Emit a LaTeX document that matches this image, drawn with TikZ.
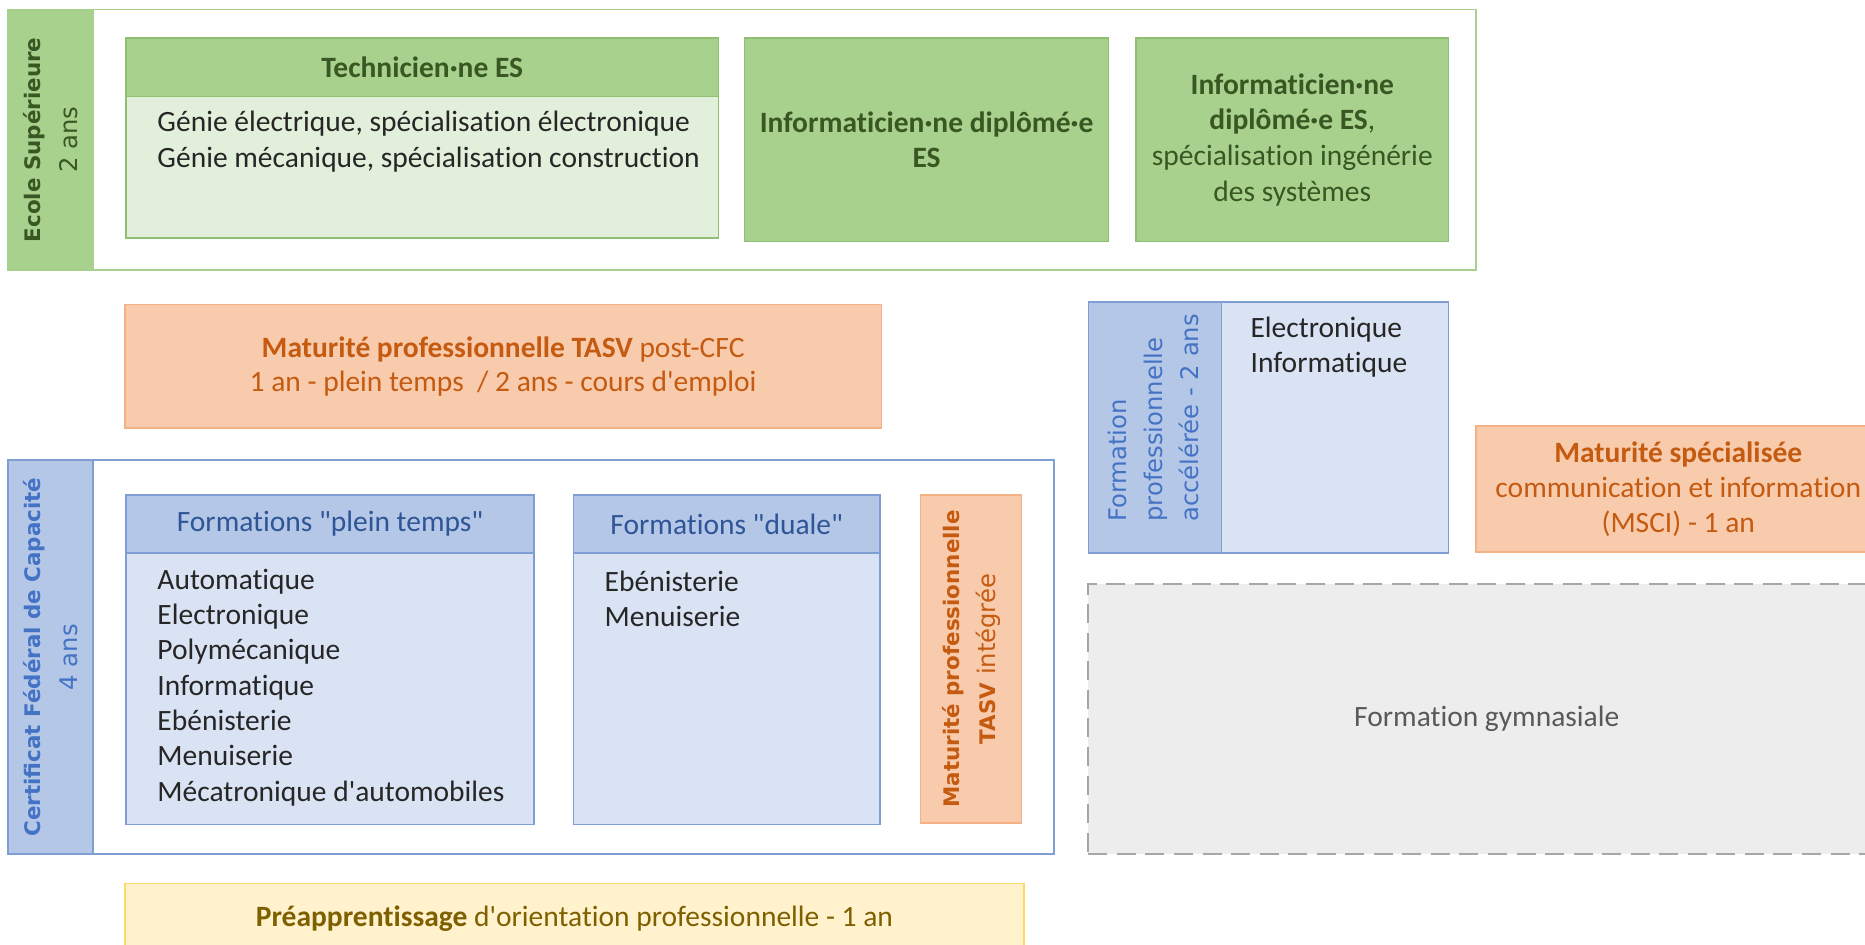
\documentclass[tikz,border=0pt]{standalone}
\usepackage{fontspec}
\setmainfont{Carlito}
\newfontfamily\cf{Carlito}[Ligatures={TeXOff,NoCommon}]
\newfontfamily\vf{DejaVu Sans}
\definecolor{esfill}{HTML}{A9D18E}
\definecolor{eslight}{HTML}{E2EFDA}
\definecolor{esborder}{HTML}{8FBF72}
\definecolor{esdark}{HTML}{385723}
\definecolor{bfill}{HTML}{B4C7E7}
\definecolor{blight}{HTML}{DAE3F3}
\definecolor{bborder}{HTML}{7F9FD4}
\definecolor{bstrip}{HTML}{4472C4}
\definecolor{bhead}{HTML}{2F5597}
\definecolor{ofill}{HTML}{F8CBAD}
\definecolor{oborder}{HTML}{F4B183}
\definecolor{otext}{HTML}{C55A11}
\definecolor{yfill}{HTML}{FFF2CC}
\definecolor{yborder}{HTML}{FFD966}
\definecolor{ytext}{HTML}{7F6000}
\definecolor{gfill}{HTML}{EDEDED}
\definecolor{gborder}{HTML}{A6A6A6}
\definecolor{gtext}{HTML}{595959}
\definecolor{body}{HTML}{262626}
\newcommand{\bx}[6]{\node[#6, anchor=north west, inner sep=0pt, outer sep=0pt, minimum width={(#4-#2)*0.5pt}, minimum height={(#5-#3)*0.5pt}] (#1) at (#2,#3) {};}
\newcommand{\vb}[1]{{\fontsize{9}{15.2}\selectfont\bfseries #1}}
\tikzset{
  esframe/.style={draw=esfill, line width=0.8pt, fill=white},
  esbox/.style={draw=esborder, line width=0.6pt, fill=esfill},
  eslightbox/.style={draw=esborder, line width=0.6pt, fill=eslight},
  bframe/.style={draw=bborder, line width=0.7pt, fill=white},
  bbox/.style={draw=bborder, line width=0.6pt, fill=bfill},
  blightbox/.style={draw=bborder, line width=0.6pt, fill=blight},
  obox/.style={draw=oborder, line width=0.6pt, fill=ofill},
  ybox/.style={draw=yborder, line width=0.6pt, fill=yfill},
  gbox/.style={draw=gborder, line width=0.9pt, dash pattern=on 8pt off 4pt, fill=gfill},
  htext/.style={font=\cf\fontsize{12.4}{15}\selectfont, align=center, inner sep=0pt},
  ltext/.style={font=\cf\fontsize{12.4}{14.85}\selectfont, align=left, inner sep=0pt, text=body},
  vtext/.style={font=\vf\fontsize{10.2}{15.2}\selectfont, align=center, inner sep=0pt, rotate=90}
}
\begin{document}
\begin{tikzpicture}[x=0.5pt, y=-0.5pt]
\useasboundingbox (0,0) rectangle (1568,794);
\clip (0,0) rectangle (1568,794);
\fill[white] (0,0) rectangle (1568,794);
% Ecole superieure
\bx{esframe}{7}{8}{1241}{227}{esframe}
\bx{esside}{7}{8}{78}{227}{esframe, fill=esfill}
\node[vtext, text=esdark] (eslab) at (esside.center) {\vb{Ecole Supérieure}\\2 ans};
\bx{techbody}{106}{81}{604}{200}{eslightbox}
\bx{techhead}{106}{32}{604}{81}{esbox}
\node[htext, text=esdark] (techtitle) at (techhead.center) {\textbf{Technicien·ne ES}};
\node[ltext, anchor=west] (techlist) at (132,119) {Génie électrique, spécialisation électronique\\Génie mécanique, spécialisation construction};
\bx{inf1}{626}{32}{932}{203}{esbox}
\node[htext, text=esdark] (inf1t) at (inf1.center) {\textbf{Informaticien·ne diplômé·e}\\\textbf{ES}};
\bx{inf2}{955}{32}{1218}{203}{esbox}
\node[htext, text=esdark] (inf2t) at (inf2.center) {\textbf{Informaticien·ne}\\\textbf{diplômé·e ES},\\spécialisation ingénérie\\des systèmes};
% MP post-CFC
\bx{mppost}{105}{256}{741}{360}{obox}
\node[htext, text=otext, font=\cf\fontsize{12.4}{14.5}\selectfont] (mpposttext) at (mppost.center) {\textbf{Maturité professionnelle TASV} post-CFC\\1 an - plein temps~~/ 2 ans - cours d'emploi};
% CFC
\bx{cfcframe}{7}{387}{886}{718}{bframe}
\bx{cfcside}{7}{387}{78}{718}{bframe, fill=bfill}
\node[vtext, text=bstrip] (cfclab) at (cfcside.center) {\vb{Certificat Fédéral de Capacité}\\4 ans};
\bx{ptbody}{106}{465}{449}{693}{blightbox}
\bx{pthead}{106}{416}{449}{465}{bbox}
\node[htext, text=bhead] (pttitle) at (pthead.center) {Formations "plein temps"};
\node[ltext, anchor=west] (ptlist) at (132,578) {Automatique\\Electronique\\Polymécanique\\Informatique\\Ebénisterie\\Menuiserie\\Mécatronique d'automobiles};
\bx{dubody}{482}{465}{740}{693}{blightbox}
\bx{duhead}{482}{416}{740}{465}{bbox}
\node[htext, text=bhead] (dutitle) at (duhead.center) {Formations "duale"};
\node[ltext, anchor=west] (dulist) at (508,503.5) {Ebénisterie\\Menuiserie};
\bx{mpint}{774}{416}{859}{692}{obox}
\node[vtext, text=otext] (mpintt) at (mpint.center) {\vb{Maturité professionnelle}\\\vb{TASV} intégrée};
% Formation professionnelle acceleree
\bx{fpabody}{915}{254}{1218}{465}{blightbox}
\bx{fpaside}{915}{254}{1027}{465}{bbox}
\node[vtext, text=bstrip, align=left, anchor=west] (fpalab) at (970,439) {Formation\\professionnelle\\accélérée - 2 ans};
\node[ltext, anchor=west] (fpalist) at (1051,292) {Electronique\\Informatique};
% Maturite specialisee
\bx{msci}{1241}{358}{1582}{464}{obox}
\node[htext, text=otext, font=\cf\fontsize{12.4}{14.75}\selectfont] (mscit) at (1411,411.5) {\textbf{Maturité spécialisée}\\communication et information\\(MSCI) - 1 an};
% Formation gymnasiale
\bx{gym}{915}{491}{1585}{718}{gbox}
\node[htext, text=gtext] (gymt) at (1250,604) {Formation gymnasiale};
% Preapprentissage
\bx{pre}{105}{743}{861}{801}{ybox}
\node[htext, text=ytext] (pret) at (483,772) {\textbf{Préapprentissage} d'orientation professionnelle - 1 an};
\end{tikzpicture}
\end{document}
